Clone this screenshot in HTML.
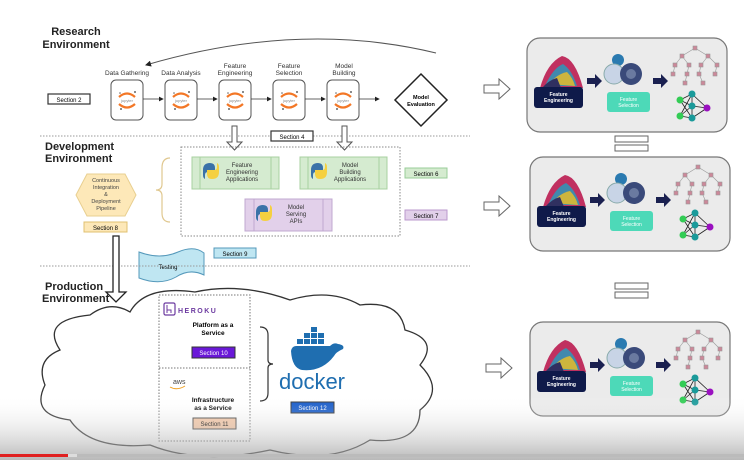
<!DOCTYPE html>
<html><head><meta charset="utf-8"><style>
html,body{margin:0;padding:0;background:#fff;}
svg{display:block;font-family:"Liberation Sans",Arial,sans-serif;}
</style></head><body>
<svg width="744" height="460" viewBox="0 0 744 460" xmlns="http://www.w3.org/2000/svg">
<defs>
<marker id="ah" markerWidth="6" markerHeight="6" refX="5" refY="3" orient="auto"><path d="M0,0 L6,3 L0,6z" fill="#222"/></marker>
<linearGradient id="bot" x1="0" y1="0" x2="0" y2="1"><stop offset="0" stop-color="#fff" stop-opacity="0"/><stop offset="1" stop-color="#9a9a9a" stop-opacity="0.7"/></linearGradient>
<g id="jup">
<rect x="0" y="0" width="32" height="40" rx="5" fill="#fff" stroke="#555" stroke-width="1"/>
<path d="M8,17 Q16,10 24,17" stroke="#f37726" stroke-width="2.2" fill="none"/>
<path d="M8,24 Q16,31 24,24" stroke="#f37726" stroke-width="2.2" fill="none"/>
<text x="16" y="22" font-size="4" text-anchor="middle" fill="#888">jupyter</text>
<circle cx="9" cy="13" r="0.8" fill="#666"/><circle cx="24" cy="12" r="1" fill="#666"/><circle cx="10" cy="29" r="1" fill="#666"/>
</g>
<g id="panel">
<rect x="0" y="0" width="200" height="94" rx="13" fill="#ebebeb" stroke="#777" stroke-width="1.2"/>
<path d="M13,50 Q20,25 35,18 Q48,20 56,50z" fill="#c03060"/>
<path d="M18,48 Q26,30 36,26 Q45,32 50,48z" fill="#20a0c0" opacity="0.8"/>
<path d="M22,46 Q30,36 40,34 Q46,40 48,48z" fill="#f0c020" opacity="0.8"/>
<path d="M15,50 Q22,42 30,40 L34,50z" fill="#303060"/>
<rect x="7" y="49" width="49" height="21" rx="3" fill="#0f1a4a"/>
<text x="31.5" y="58" font-size="5" font-weight="bold" fill="#fff" text-anchor="middle">Feature</text>
<text x="31.5" y="64" font-size="5" font-weight="bold" fill="#fff" text-anchor="middle">Engineering</text>
<path d="M60,40 h8 v-4 l7,7 l-7,7 v-4 h-8z" fill="#1a2050"/>
<circle cx="91" cy="22" r="6" fill="#2a7ab0"/>
<circle cx="87" cy="36" r="10" fill="#c8d4e6" stroke="#8aa" stroke-width="1"/>
<circle cx="104" cy="36" r="11" fill="#3a4a7a"/>
<circle cx="104" cy="36" r="5" fill="#6a7aa0"/>
<rect x="80" y="54" width="43" height="20" rx="3" fill="#4dd9b8"/>
<text x="101.5" y="63" font-size="5" fill="#fff" text-anchor="middle">Feature</text>
<text x="101.5" y="69" font-size="5" fill="#fff" text-anchor="middle">Selection</text>
<path d="M126,40 h8 v-4 l7,7 l-7,7 v-4 h-8z" fill="#1a2050"/>
<g stroke="#999" stroke-width="0.6" fill="#c89">
<path d="M168,10 L155,18 M168,10 L181,18 M155,18 L148,27 M155,18 L162,27 M181,18 L174,27 M181,18 L190,27 M148,27 L146,36 M162,27 L160,36 M174,27 L172,36 M190,27 L188,36 M160,36 L158,45 M172,36 L176,45"/>
<rect x="166" y="8" width="4" height="4"/><rect x="153" y="16" width="4" height="4"/><rect x="179" y="16" width="4" height="4"/>
<rect x="146" y="25" width="4" height="4"/><rect x="160" y="25" width="4" height="4"/><rect x="172" y="25" width="4" height="4"/><rect x="188" y="25" width="4" height="4"/>
<rect x="144" y="34" width="4" height="4"/><rect x="158" y="34" width="4" height="4"/><rect x="170" y="34" width="4" height="4"/><rect x="186" y="34" width="4" height="4"/>
<rect x="156" y="43" width="4" height="4"/><rect x="174" y="43" width="4" height="4"/>
</g>
<g stroke="#222" stroke-width="0.8">
<path d="M153,62 L165,56 M153,62 L165,68 M153,62 L165,80 M153,78 L165,56 M153,78 L165,68 M153,78 L165,80 M165,56 L180,70 M165,68 L180,70 M165,80 L180,70 M165,56 L165,68 M165,68 L165,80"/>
</g>
<circle cx="153" cy="62" r="3.5" fill="#33cc55"/><circle cx="153" cy="78" r="3.5" fill="#33cc55"/>
<circle cx="165" cy="56" r="3.5" fill="#1a9a9a"/><circle cx="165" cy="68" r="3.5" fill="#1a9a9a"/><circle cx="165" cy="80" r="3.5" fill="#1a9a9a"/>
<circle cx="180" cy="70" r="3.5" fill="#9a10c0"/>
</g>
<g id="harr"><path d="M0,-4 h15 v-6 l11,10 l-11,10 v-6 h-15z" fill="#fff" stroke="#666" stroke-width="1"/></g>
<g id="eq"><rect x="0" y="0" width="33" height="6" fill="#fff" stroke="#666"/><rect x="0" y="9" width="33" height="6" fill="#fff" stroke="#666"/></g>
<g id="py"><path d="M0,7 Q0,0 7,0 Q12,0 12,5 L12,9 L5,9 Q2,9 2,12 L2,16 Q0,15 0,12z" fill="#3a72a8"/><path d="M16,9 Q16,16 9,16 Q4,16 4,11 L4,7 L11,7 Q14,7 14,4 L14,0 Q16,1 16,4z" fill="#f5d040"/></g>
</defs>

<!-- Research -->
<text x="76" y="35" font-size="11" font-weight="bold" text-anchor="middle" fill="#222">Research</text>
<text x="76" y="48" font-size="11" font-weight="bold" text-anchor="middle" fill="#222">Environment</text>
<path d="M436,53 Q300,20 146,65" stroke="#555" stroke-width="1" fill="none" marker-end="url(#ah)"/>
<g font-size="6.5" fill="#333" text-anchor="middle">
<text x="127" y="75">Data Gathering</text>
<text x="181" y="75">Data Analysis</text>
<text x="235" y="68">Feature</text><text x="235" y="75">Engineering</text>
<text x="289" y="68">Feature</text><text x="289" y="75">Selection</text>
<text x="344" y="68">Model</text><text x="344" y="75">Building</text>
</g>
<rect x="48" y="94" width="42" height="10" fill="#fff" stroke="#333" stroke-width="1.2"/>
<text x="69" y="102" font-size="6" text-anchor="middle">Section 2</text>
<use href="#jup" x="111" y="80"/><use href="#jup" x="165" y="80"/><use href="#jup" x="219" y="80"/><use href="#jup" x="273" y="80"/><use href="#jup" x="327" y="80"/>
<g stroke="#333" stroke-width="0.8" marker-end="url(#ah)">
<line x1="143" y1="99" x2="163" y2="99"/><line x1="197" y1="99" x2="217" y2="99"/><line x1="251" y1="99" x2="271" y2="99"/><line x1="305" y1="99" x2="325" y2="99"/><line x1="359" y1="99" x2="379" y2="99"/>
</g>
<path d="M421,74 L447,100 L421,126 L395,100z" fill="#fff" stroke="#222" stroke-width="1.5"/>
<text x="421" y="99" font-size="5.5" font-weight="bold" text-anchor="middle">Model</text>
<text x="421" y="106" font-size="5.5" font-weight="bold" text-anchor="middle">Evaluation</text>
<line x1="40" y1="136" x2="470" y2="136" stroke="#999" stroke-dasharray="1.5,1.5"/>
<path d="M232,126 h5 v16 h5 l-7.5,8 l-7.5,-8 h5z" fill="#fff" stroke="#555"/>
<path d="M342,126 h5 v16 h5 l-7.5,8 l-7.5,-8 h5z" fill="#fff" stroke="#555"/>
<rect x="271" y="131" width="42" height="10" fill="#fff" stroke="#333" stroke-width="1.2"/>
<text x="292" y="139" font-size="6" text-anchor="middle">Section 4</text>

<!-- Development -->
<text x="45" y="150" font-size="11" font-weight="bold" fill="#222">Development</text>
<text x="45" y="162" font-size="11" font-weight="bold" fill="#222">Environment</text>
<path d="M87,174 L125,174 L136,195 L125,216 L87,216 L76,195z" fill="#fde8b8" stroke="#e8cf90"/>
<g font-size="5.5" fill="#444" text-anchor="middle"><text x="106" y="182">Continuous</text><text x="106" y="189">Integration</text><text x="106" y="196">&amp;</text><text x="106" y="203">Deployment</text><text x="106" y="210">Pipeline</text></g>
<rect x="84" y="222" width="43" height="10" fill="#fde8b8" stroke="#e0c070"/>
<text x="105.5" y="230" font-size="6" text-anchor="middle">Section 8</text>
<path d="M170,158 Q162,158 162,168 L162,184 Q162,190 156,190 Q162,190 162,196 L162,213 Q162,222 170,222" fill="none" stroke="#e0c890" stroke-width="1.2"/>
<rect x="181" y="147" width="219" height="89" fill="none" stroke="#888" stroke-dasharray="1.5,1.5"/>
<rect x="192" y="157" width="87" height="32" fill="#d5ebd0" stroke="#a8d0a0"/>
<line x1="200" y1="157" x2="200" y2="189" stroke="#a8d0a0"/><line x1="271" y1="157" x2="271" y2="189" stroke="#a8d0a0"/>
<use href="#py" x="203" y="163"/>
<g font-size="6" fill="#333" text-anchor="middle"><text x="242" y="167">Feature</text><text x="242" y="174">Engineering</text><text x="242" y="181">Applications</text></g>
<rect x="300" y="157" width="87" height="32" fill="#d5ebd0" stroke="#a8d0a0"/>
<line x1="308" y1="157" x2="308" y2="189" stroke="#a8d0a0"/><line x1="379" y1="157" x2="379" y2="189" stroke="#a8d0a0"/>
<use href="#py" x="311" y="163"/>
<g font-size="6" fill="#333" text-anchor="middle"><text x="350" y="167">Model</text><text x="350" y="174">Building</text><text x="350" y="181">Applications</text></g>
<rect x="245" y="199" width="87" height="32" fill="#e2d0ea" stroke="#c0a8d0"/>
<line x1="254" y1="199" x2="254" y2="231" stroke="#c0a8d0"/><line x1="323" y1="199" x2="323" y2="231" stroke="#c0a8d0"/>
<use href="#py" x="256" y="205"/>
<g font-size="6" fill="#333" text-anchor="middle"><text x="296" y="209">Model</text><text x="296" y="216">Serving</text><text x="296" y="223">APIs</text></g>
<rect x="405" y="168" width="42" height="10" fill="#d5ebd0" stroke="#9c9"/>
<text x="426" y="176" font-size="6" text-anchor="middle">Section 6</text>
<rect x="405" y="210" width="42" height="10" fill="#e2d0ea" stroke="#b9c"/>
<text x="426" y="218" font-size="6" text-anchor="middle">Section 7</text>
<rect x="214" y="248" width="42" height="10" fill="#bfe6f2" stroke="#59b"/>
<text x="235" y="256" font-size="6" text-anchor="middle">Section 9</text>
<path d="M139,252 Q160,260 178,252 Q194,245 204,253 L204,275 Q190,268 176,277 Q160,286 139,278z" fill="#bfe6f2" stroke="#59b"/>
<text x="168" y="269" font-size="6" text-anchor="middle">Testing</text>
<line x1="40" y1="266" x2="470" y2="266" stroke="#999" stroke-dasharray="1.5,1.5"/>
<path d="M113,236 h6 v56 h7 l-10,10 l-10,-10 h7z" fill="#fff" stroke="#222" stroke-width="1.3"/>

<!-- Production -->
<text x="45" y="290" font-size="11" font-weight="bold" fill="#222">Production</text>
<text x="42" y="302" font-size="11" font-weight="bold" fill="#222">Environment</text>
<path d="M130,312 Q145,285 195,292 Q240,282 290,300 Q330,288 360,305 Q400,300 405,330 Q440,340 420,365 Q445,390 420,410 Q420,445 370,440 Q330,465 270,450 Q200,465 150,445 Q90,450 70,420 Q30,415 45,385 Q35,360 60,350 Q40,320 90,315 Q110,300 130,312z" fill="#fff" stroke="#333" stroke-width="1.3"/>
<rect x="159" y="295" width="91" height="146" fill="#fff" stroke="#777" stroke-dasharray="1.5,1.5"/>
<line x1="159" y1="368" x2="250" y2="368" stroke="#777" stroke-dasharray="1.5,1.5"/>
<rect x="164" y="303" width="11" height="12" rx="1.5" fill="none" stroke="#6c3aa0" stroke-width="1.2"/>
<path d="M167,305 v8 M167,310 h4 v3" stroke="#6c3aa0" fill="none"/>
<text x="178" y="313" font-size="7" font-weight="bold" fill="#6c3aa0" letter-spacing="1.5">HEROKU</text>
<text x="213" y="327" font-size="6.5" font-weight="bold" text-anchor="middle">Platform as a</text>
<text x="213" y="335" font-size="6.5" font-weight="bold" text-anchor="middle">Service</text>
<rect x="192" y="347" width="43" height="11" fill="#6a18d8" stroke="#333"/>
<text x="213.5" y="355" font-size="6" fill="#fff" text-anchor="middle">Section 10</text>
<text x="173" y="384" font-size="7" fill="#444">aws</text>
<path d="M170,387 Q177,391 185,386" stroke="#f0a020" fill="none"/>
<text x="213" y="402" font-size="6.5" font-weight="bold" text-anchor="middle">Infrastructure</text>
<text x="213" y="410" font-size="6.5" font-weight="bold" text-anchor="middle">as a Service</text>
<rect x="193" y="418" width="43" height="11" fill="#f6c8a6" stroke="#444"/>
<text x="214.5" y="426" font-size="6" text-anchor="middle">Section 11</text>
<path d="M260,327 Q268,327 268,335 L268,360 Q268,364 273,364 Q268,364 268,368 L268,393 Q268,401 260,401" fill="none" stroke="#333" stroke-width="1.2"/>
<g fill="#1f6eb0">
<path d="M291,351 Q292,346 296,346 L330,346 Q334,342 338,344 Q345,345 343,349 Q336,352 334,356 Q322,372 302,370 Q292,368 291,351z"/>
<rect x="297" y="339" width="6" height="5"/><rect x="304" y="339" width="6" height="5"/><rect x="311" y="339" width="6" height="5"/><rect x="318" y="339" width="6" height="5"/>
<rect x="304" y="333" width="6" height="5"/><rect x="311" y="333" width="6" height="5"/><rect x="318" y="333" width="6" height="5"/><rect x="311" y="327" width="6" height="5"/>
</g>
<text x="312" y="389" font-size="22" fill="#1f6eb0" text-anchor="middle" font-family="Liberation Sans,sans-serif">docker</text>
<rect x="291" y="402" width="43" height="11" fill="#1358c8" stroke="#333"/>
<text x="312.5" y="410" font-size="6" fill="#fff" text-anchor="middle">Section 12</text>

<!-- Right side -->
<use href="#harr" x="484" y="89"/>
<use href="#harr" x="484" y="206"/>
<use href="#harr" x="486" y="368"/>
<use href="#panel" x="527" y="38"/>
<use href="#panel" x="530" y="157"/>
<use href="#panel" x="530" y="322"/>
<use href="#eq" x="615" y="136"/>
<use href="#eq" x="615" y="283"/>

<!-- bottom video overlay -->
<rect x="0" y="395" width="744" height="65" fill="url(#bot)"/>
<rect x="0" y="454" width="744" height="3" fill="#bbb"/>
<rect x="0" y="454" width="68" height="3" fill="#e02020"/>
<rect x="68" y="454" width="9" height="3" fill="#ddd"/>
</svg>
</body></html>
